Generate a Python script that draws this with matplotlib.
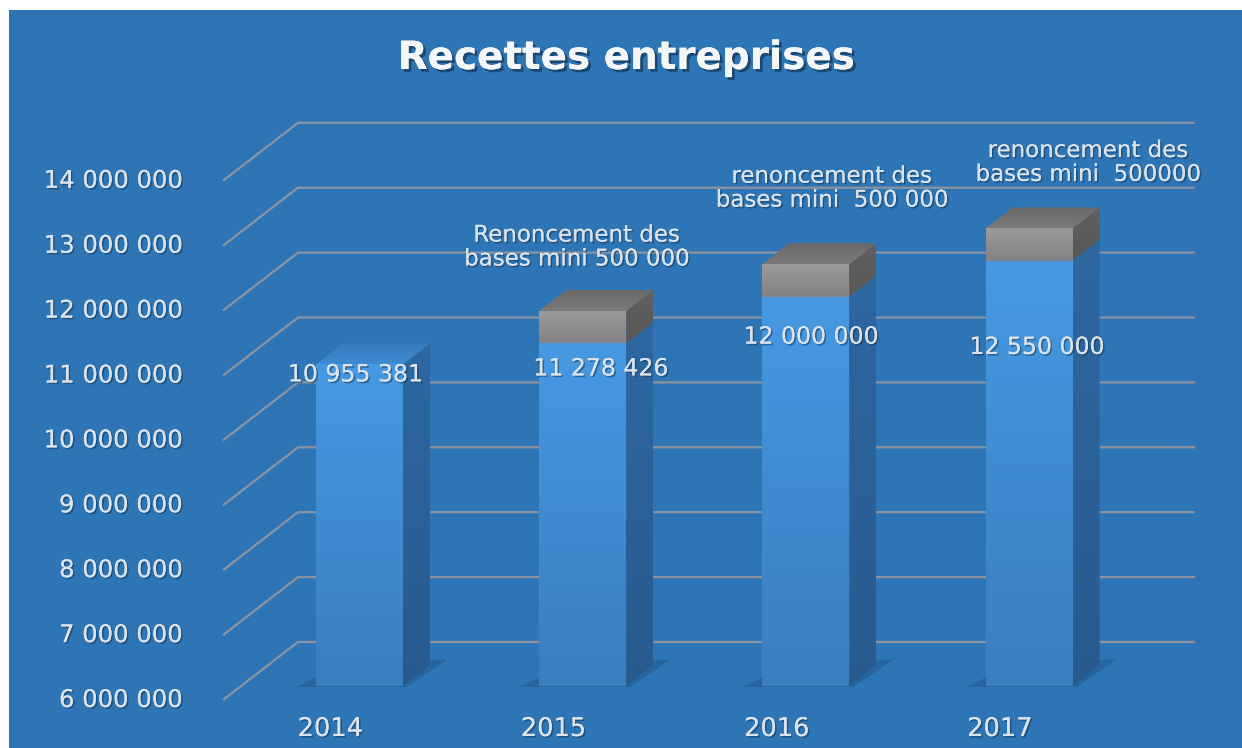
import numpy as np
import matplotlib
matplotlib.use("Agg")
import matplotlib.pyplot as plt
from matplotlib.patches import Rectangle, Polygon
from matplotlib.colors import LinearSegmentedColormap
import matplotlib.patheffects as pe

# ---- data ----
years = ["2014", "2015", "2016", "2017"]
base_values = [10955381, 11278426, 12000000, 12550000]
waiver_values = [0, 500000, 500000, 500000]
value_labels = ["10 955 381", "11 278 426", "12 000 000", "12 550 000"]
waiver_notes = ["",
                "Renoncement des\nbases mini 500 000",
                "renoncement des\nbases mini  500 000",
                "renoncement des\nbases mini  500000"]
tick_values = [6000000, 7000000, 8000000, 9000000, 10000000,
               11000000, 12000000, 13000000, 14000000]
title = "Recettes entreprises"

# ---- layout (pixels) ----
W, H = 1242, 748
BG = "#2E75B6"
TXT = "#DCE3EB"
GRID = "#8A94A0"

fig = plt.figure(figsize=(W / 100, H / 100), dpi=100, facecolor="white")
fig.patches.append(Rectangle((9 / W, 0), 1, (H - 10) / H, transform=fig.transFigure,
                             facecolor=BG, edgecolor="none", zorder=-10))

ax_l, ax_r, ax_b, ax_t = 241, 1138, 62, 581.2
ax = fig.add_axes([ax_l / W, ax_b / H, (ax_r - ax_l) / W, (ax_t - ax_b) / H])
ax.set_axis_off()
XL, XR = -0.531, 3.488
YB, YT = 6e6, 14e6
ppx = (ax_r - ax_l) / (XR - XL)
ppy = (ax_t - ax_b) / (YT - YB)


def dx(p):
    return p / ppx


def dy(p):
    return p / ppy


depth = (dx(27), dy(21))          # bar depth vector
front = (dx(-18), dy(-14))        # floor front edge relative to bar plane
back = (dx(57), dy(44))           # back wall relative to bar plane
bar_w = dx(87)

shadow = [pe.withSimplePatchShadow(offset=(1.2, -1.2), shadow_rgbFace="#123456", alpha=0.5),
          pe.Normal()]

# ---- gridlines in oblique perspective ----
for v in tick_values:
    xs = [XL + front[0], XL + back[0], XR + back[0]]
    ys = [v + front[1], v + back[1], v + back[1]]
    ax.plot(xs, ys, color=GRID, lw=1.6, zorder=1, clip_on=False, solid_capstyle="butt")
    ax.text(XL + dx(183 - ax_l), v + front[1], f"{v:,}".replace(",", " "),
            ha="right", va="center", fontsize=17.5, color=TXT, path_effects=shadow,
            clip_on=False)


def grad_poly(verts, c_top, c_bot, z, horizontal=False):
    poly = Polygon(verts, closed=True, facecolor="none", edgecolor="none",
                   transform=ax.transData)
    ax.add_patch(poly)
    xs = [p[0] for p in verts]
    ys = [p[1] for p in verts]
    cmap = LinearSegmentedColormap.from_list("g", [c_bot, c_top])
    arr = np.linspace(0, 1, 128)
    arr = arr.reshape(1, -1) if horizontal else arr.reshape(-1, 1)
    im = ax.imshow(arr, extent=[min(xs), max(xs), min(ys), max(ys)], origin="lower",
                   aspect="auto", cmap=cmap, zorder=z, interpolation="bilinear")
    im.set_clip_path(poly)


def box(xc, v0, v1, faces, z):
    x0, x1 = xc - bar_w / 2, xc + bar_w / 2
    ddx, ddy = depth
    # front face
    grad_poly([(x0, v0), (x1, v0), (x1, v1), (x0, v1)], faces["front_top"], faces["front_bot"], z)
    # side face
    grad_poly([(x1, v0), (x1 + ddx, v0 + ddy), (x1 + ddx, v1 + ddy), (x1, v1)],
              faces["side_top"], faces["side_bot"], z)
    # top face
    grad_poly([(x0, v1), (x1, v1), (x1 + ddx, v1 + ddy), (x0 + ddx, v1 + ddy)],
              faces["top_back"], faces["top_front"], z)


blue = dict(front_top="#4699E2", front_bot="#3A7EBF", side_top="#2D68A1",
            side_bot="#285B8D", top_front="#3F8AD2", top_back="#357BBD")
gray = dict(front_top="#9A9A9A", front_bot="#838383", side_top="#606060",
            side_bot="#575757", top_front="#7A7A7A", top_back="#6A6A6A")

for i, (b, w) in enumerate(zip(base_values, waiver_values)):
    x0, x1 = i - bar_w / 2, i + bar_w / 2
    # soft floor shadow
    ax.add_patch(Polygon([(x0 - dx(20), YB - dy(1)), (x1 + dx(4), YB - dy(1)),
                          (x1 + depth[0] + dx(18), YB + depth[1] + dy(6)),
                          (x0 + depth[0], YB + depth[1])],
                         closed=True, facecolor="#22568A", alpha=0.5, edgecolor="none",
                         zorder=2, clip_on=False))
    box(i, YB, b, blue, 3)
    if w:
        box(i, b, b + w, gray, 4)

# ---- value labels ----
label_offsets = [(-4, -10), (18, -25), (5, -40), (8, -86)]
for i, (b, txt) in enumerate(zip(base_values, value_labels)):
    ox, oy = label_offsets[i]
    ax.text(i + dx(ox), b + dy(oy), txt, ha="center", va="center", fontsize=17,
            color=TXT, path_effects=shadow, zorder=10, clip_on=False)

# ---- waiver notes ----
note_offsets = [(0, 0), (-6, 64), (26, 76), (59, 66)]
for i, (b, w, note) in enumerate(zip(base_values, waiver_values, waiver_notes)):
    if not note:
        continue
    ox, oy = note_offsets[i]
    ax.text(i + dx(ox), b + w + dy(oy), note, ha="center", va="center", fontsize=16.5,
            color=TXT, path_effects=shadow, zorder=10, clip_on=False, linespacing=1.05)

# ---- category labels ----
for i, yr in enumerate(years):
    ax.text(i + dx(-29), YB - dy(43), yr, ha="center", va="center", fontsize=18.5,
            color=TXT, path_effects=shadow, clip_on=False)

ax.set_xlim(XL, XR)
ax.set_ylim(YB, YT)

fig.text(626 / W, 1 - 58 / H, title, ha="center", va="center", fontsize=28,
         fontweight="bold", color="#F4F6F8",
         path_effects=[pe.withSimplePatchShadow(offset=(2, -2), shadow_rgbFace="#0E2A47",
                                                alpha=0.6), pe.Normal()])

fig.savefig("out.png", dpi=100, facecolor="white")
